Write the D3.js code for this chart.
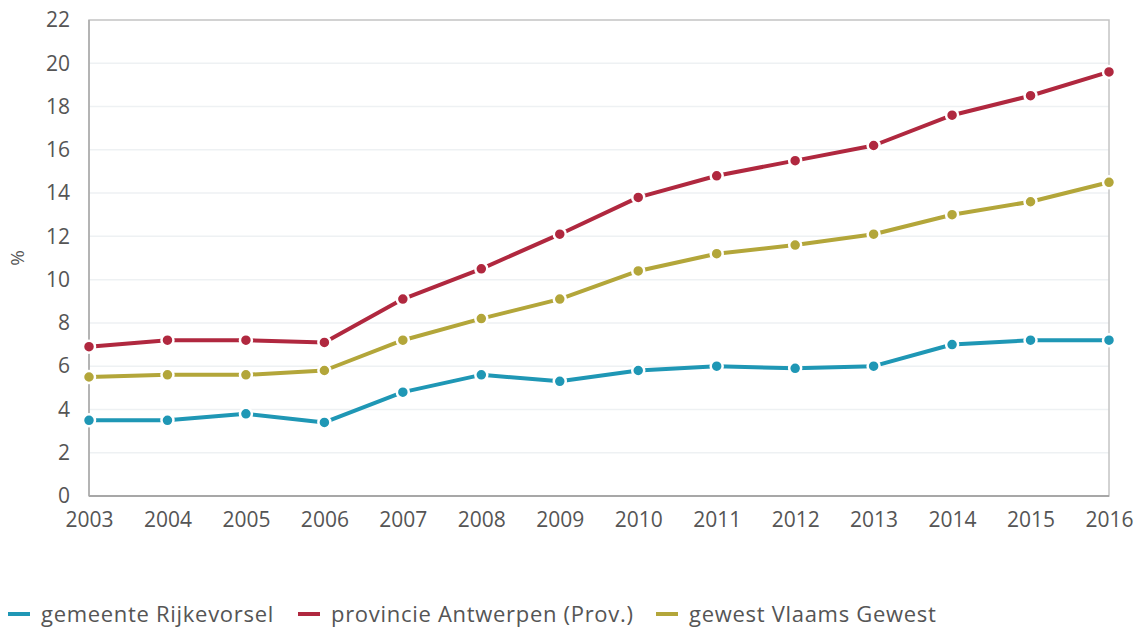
<!DOCTYPE html>
<html><head><meta charset="utf-8">
<script src="https://cdn.jsdelivr.net/npm/d3@7"></script>
<style>
body{margin:0;background:#fff;}
text{font-family:"Open Sans",sans-serif;}
</style></head>
<body><svg id="c" width="1143" height="630"></svg>
<script>
const years = [2003,2004,2005,2006,2007,2008,2009,2010,2011,2012,2013,2014,2015,2016];
const rijkevorsel = [3.5,3.5,3.8,3.4,4.8,5.6,5.3,5.8,6.0,5.9,6.0,7.0,7.2,7.2];
const antwerpen = [6.9,7.2,7.2,7.1,9.1,10.5,12.1,13.8,14.8,15.5,16.2,17.6,18.5,19.6];
const vlaams = [5.5,5.6,5.6,5.8,7.2,8.2,9.1,10.4,11.2,11.6,12.1,13.0,13.6,14.5];
const seriesNames = ["gemeente Rijkevorsel","provincie Antwerpen (Prov.)","gewest Vlaams Gewest"];
const colors = ["#1f97b5","#b0283f","#b3a63a"];
const yTicks = [0,2,4,6,8,10,12,14,16,18,20,22];

const svg = d3.select("#c");
const L=89,R=1109,T=20,B=496;
const x = d3.scaleLinear().domain([2003,2016]).range([L,R]);
const y = d3.scaleLinear().domain([0,22]).range([B,T]);

// gridlines
svg.append("g").selectAll("line").data(yTicks.slice(1,-1)).join("line")
  .attr("x1",L).attr("x2",R).attr("y1",d=>y(d)).attr("y2",d=>y(d))
  .attr("stroke","#eef1f3").attr("stroke-width",1.5);

// frame
svg.append("rect").attr("x",L).attr("y",T).attr("width",R-L).attr("height",B-T)
  .attr("fill","none").attr("stroke","#c4c4c4").attr("stroke-width",1.5);
svg.append("line").attr("x1",L).attr("x2",R).attr("y1",B).attr("y2",B).attr("stroke","#999").attr("stroke-width",1.5);
svg.append("line").attr("x1",L).attr("x2",L).attr("y1",T).attr("y2",B).attr("stroke","#aaa").attr("stroke-width",1.5);

// axes
const ya = svg.append("g").attr("transform",`translate(${L},0)`)
  .call(d3.axisLeft(y).tickValues(yTicks).tickSize(0).tickPadding(19));
ya.select(".domain").remove();
ya.selectAll("text").attr("font-size",21).attr("fill","#555").attr("font-family","Open Sans, sans-serif");

const xa = svg.append("g").attr("transform",`translate(0,${B})`)
  .call(d3.axisBottom(x).tickValues(years).tickFormat(d3.format("d")).tickSize(0).tickPadding(16));
xa.select(".domain").remove();
xa.selectAll("text").attr("font-size",21).attr("fill","#555").attr("font-family","Open Sans, sans-serif");

svg.append("text").attr("transform","translate(24,258) rotate(-90)")
  .attr("text-anchor","middle").attr("font-size",19).attr("fill","#555").text("%");

const data = [rijkevorsel, antwerpen, vlaams];
const line = d3.line().x((d,i)=>x(years[i])).y(d=>y(d));
data.forEach((vals,k)=>{
  svg.append("path").datum(vals).attr("d",line).attr("fill","none")
    .attr("stroke",colors[k]).attr("stroke-width",4).attr("stroke-linejoin","round");
});
data.forEach((vals,k)=>{
  svg.append("g").selectAll("circle").data(vals).join("circle")
    .attr("cx",(d,i)=>x(years[i])).attr("cy",d=>y(d)).attr("r",6)
    .attr("fill",colors[k]).attr("stroke","#fff").attr("stroke-width",2.5);
});

// legend
const legX = [8,298,656];
const lg = svg.append("g");
seriesNames.forEach((n,k)=>{
  lg.append("line").attr("x1",legX[k]).attr("x2",legX[k]+22).attr("y1",614).attr("y2",614)
    .attr("stroke",colors[k]).attr("stroke-width",4);
  lg.append("text").attr("x",legX[k]+33).attr("y",622).attr("font-size",22)
    .attr("letter-spacing",0.7).attr("fill","#555").text(n);
});
</script></body></html>
